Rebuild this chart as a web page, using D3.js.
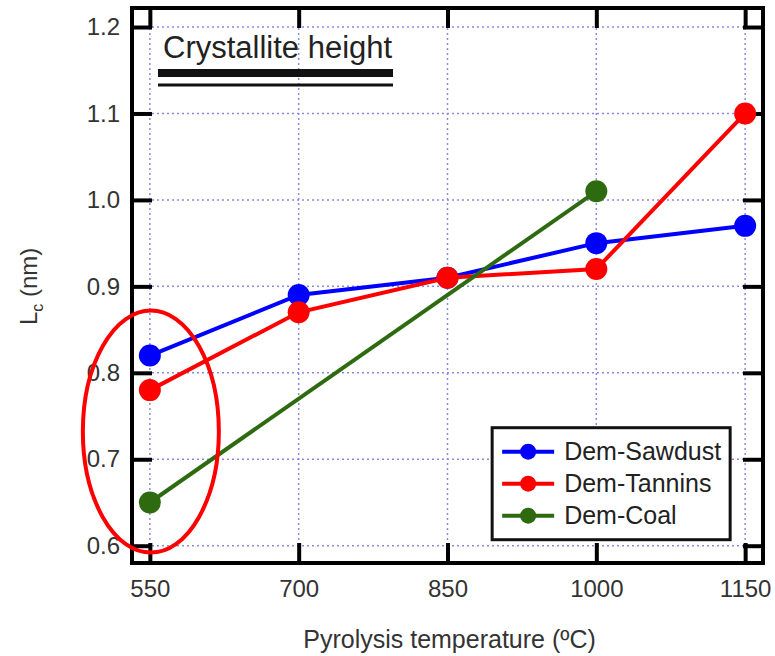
<!DOCTYPE html>
<html>
<head>
<meta charset="utf-8">
<script src="https://cdn.jsdelivr.net/npm/d3@7"></script>
<style>
  body { margin: 0; background: #fff; }
  text { font-family: 'Liberation Sans', Arial, sans-serif; fill: #333; }
</style>
</head>
<body>
<svg id="chart" width="775" height="656"></svg>
<script>
// data
var temps = [550, 700, 850, 1000, 1150];
var sawdust = [0.82, 0.89, 0.91, 0.95, 0.97];
var tannins = [0.78, 0.87, 0.91, 0.92, 1.10];
var coalTemps = [550, 1000];
var coal = [0.65, 1.01];
var yTicks = [0.6, 0.7, 0.8, 0.9, 1.0, 1.1, 1.2];

var series = [
  { name: 'Dem-Sawdust', color: '#0000ff', x: temps, y: sawdust },
  { name: 'Dem-Tannins', color: '#ff0000', x: temps, y: tannins },
  { name: 'Dem-Coal', color: '#2e6a10', x: coalTemps, y: coal }
];

var svg = d3.select('#chart');
var margin = { top: 8, right: 12, bottom: 93, left: 132 };
var width = +svg.attr('width') - margin.left - margin.right;
var height = +svg.attr('height') - margin.top - margin.bottom;

var x = d3.scaleLinear().domain([532, 1168]).range([0, width]);
var y = d3.scaleLinear().domain([0.58, 1.222]).range([height, 0]);

var g = svg.append('g')
  .attr('transform', 'translate(' + margin.left + ',' + margin.top + ')');

// dotted grid
g.append('g').selectAll('line.gx')
  .data(temps)
  .enter().append('line')
  .attr('x1', function(d) { return x(d); })
  .attr('x2', function(d) { return x(d); })
  .attr('y1', 0).attr('y2', height)
  .style('stroke', '#8a8ae0').style('stroke-width', 1.5)
  .style('stroke-dasharray', '2,3');

g.append('g').selectAll('line.gy')
  .data(yTicks)
  .enter().append('line')
  .attr('y1', function(d) { return y(d); })
  .attr('y2', function(d) { return y(d); })
  .attr('x1', 0).attr('x2', width)
  .style('stroke', '#8a8ae0').style('stroke-width', 1.5)
  .style('stroke-dasharray', '2,3');

// axes, ticks inside and mirrored on all sides
function styleAxis(sel) {
  sel.select('.domain').remove();
  sel.selectAll('.tick line').style('stroke', '#000').style('stroke-width', 4);
  sel.selectAll('.tick text')
    .style('font-family', "'Liberation Sans', Arial, sans-serif")
    .style('font-size', '24px').style('fill', '#333');
}

g.append('g')
  .attr('transform', 'translate(0,' + height + ')')
  .call(d3.axisBottom(x).tickValues(temps).tickSizeInner(-20).tickSizeOuter(0).tickPadding(17)
    .tickFormat(d3.format('d')))
  .call(styleAxis);

g.append('g')
  .call(d3.axisTop(x).tickValues(temps).tickSizeInner(-20).tickSizeOuter(0).tickFormat(''))
  .call(styleAxis);

g.append('g')
  .call(d3.axisLeft(y).tickValues(yTicks).tickSizeInner(-20).tickSizeOuter(0).tickPadding(12)
    .tickFormat(d3.format('.1f')))
  .call(styleAxis);

g.append('g')
  .attr('transform', 'translate(' + width + ',0)')
  .call(d3.axisRight(y).tickValues(yTicks).tickSizeInner(-20).tickSizeOuter(0).tickFormat(''))
  .call(styleAxis);

g.append('rect')
  .attr('width', width).attr('height', height)
  .style('fill', 'none').style('stroke', '#000').style('stroke-width', 4);

// series
var line = d3.line()
  .x(function(d) { return x(d[0]); })
  .y(function(d) { return y(d[1]); });

series.forEach(function(s) {
  var pts = s.x.map(function(t, i) { return [t, s.y[i]]; });
  g.append('path')
    .datum(pts)
    .attr('d', line)
    .style('fill', 'none')
    .style('stroke', s.color)
    .style('stroke-width', 4);
  g.append('g').selectAll('circle')
    .data(pts)
    .enter().append('circle')
    .attr('cx', function(d) { return x(d[0]); })
    .attr('cy', function(d) { return y(d[1]); })
    .attr('r', 11)
    .style('fill', s.color);
});

// red ellipse around the 550 points
g.append('ellipse')
  .attr('cx', x(550) + 1)
  .attr('cy', y(0.732))
  .attr('rx', 68).attr('ry', 121)
  .style('fill', 'none').style('stroke', '#ff0000').style('stroke-width', 4);

// title label with double underline
g.append('text')
  .attr('x', 31).attr('y', 50)
  .style('font-size', '31px').style('fill', '#222')
  .text('Crystallite height');
g.append('line')
  .attr('x1', 26).attr('x2', 261).attr('y1', 65).attr('y2', 65)
  .style('stroke', '#111').style('stroke-width', 8);
g.append('line')
  .attr('x1', 26).attr('x2', 261).attr('y1', 77).attr('y2', 77)
  .style('stroke', '#111').style('stroke-width', 3);

// legend
var legend = g.append('g')
  .attr('transform', 'translate(' + (x(1150) - 253) + ',' + (y(0.6) - 118) + ')');
legend.append('rect')
  .attr('width', 238).attr('height', 112)
  .style('fill', '#fff').style('stroke', '#111').style('stroke-width', 3);
var item = legend.selectAll('g.item')
  .data(series)
  .enter().append('g')
  .attr('transform', function(d, i) { return 'translate(0,' + (24 + i * 32) + ')'; });
item.append('line')
  .attr('x1', 10).attr('x2', 62)
  .style('stroke', function(d) { return d.color; })
  .style('stroke-width', 4);
item.append('circle')
  .attr('cx', 36).attr('r', 8)
  .style('fill', function(d) { return d.color; });
item.append('text')
  .attr('x', 72).attr('dy', '0.35em')
  .style('font-size', '25px').style('fill', '#222')
  .text(function(d) { return d.name; });

// axis titles
svg.append('text')
  .attr('x', margin.left + x(850) + 2)
  .attr('y', 648)
  .attr('text-anchor', 'middle')
  .style('font-size', '25px')
  .text('Pyrolysis temperature (\u00BAC)');

var yl = svg.append('text')
  .attr('transform', 'translate(37,' + (margin.top + y(0.9)) + ') rotate(-90)')
  .attr('text-anchor', 'middle')
  .style('font-size', '24px');
yl.append('tspan').text('L');
yl.append('tspan').attr('dy', 6).style('font-size', '16px').text('c');
yl.append('tspan').attr('dy', -6).text(' (nm)');
</script>
</body>
</html>
